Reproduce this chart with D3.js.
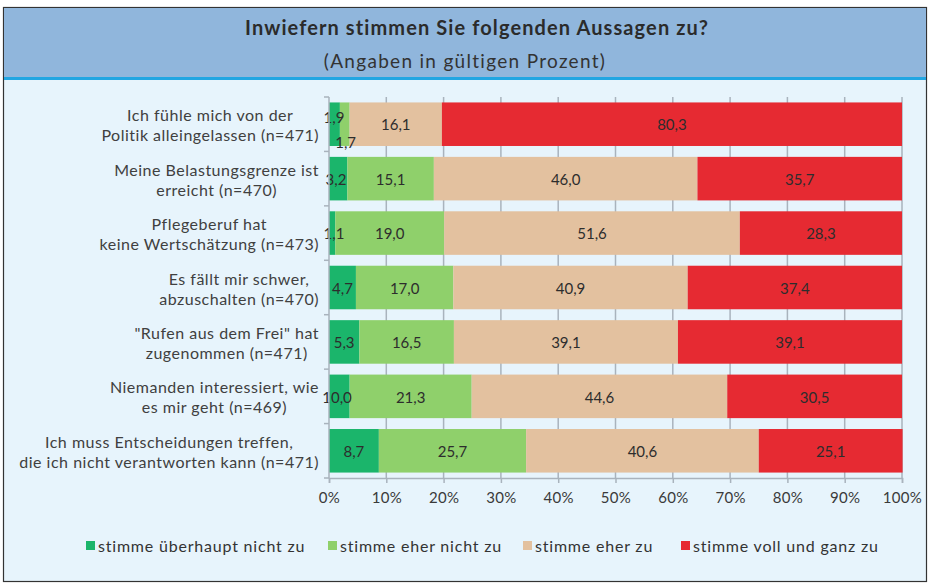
<!DOCTYPE html>
<html>
<head>
<meta charset="utf-8">
<script src="https://cdn.jsdelivr.net/npm/d3@7"></script>
<style>
  body { margin: 0; background: #fff; }
  svg { display: block; font-family: Lato, "Open Sans", sans-serif; }
</style>
</head>
<body>
<div id="chart"></div>
<script>
// Survey answers, stacked to 100%
const categories = [
    ["Ich fühle mich von der", "Politik alleingelassen (n=471)"],
    ["Meine Belastungsgrenze ist", "erreicht (n=470)"],
    ["Pflegeberuf hat", "keine Wertschätzung (n=473)"],
    ["Es fällt mir schwer,", "abzuschalten (n=470)"],
    ["\"Rufen aus dem Frei\" hat", "zugenommen (n=471)"],
    ["Niemanden interessiert, wie", "es mir geht (n=469)"],
    ["Ich muss Entscheidungen treffen,", "die ich nicht verantworten kann (n=471)"]
];
const seriesNames = ["stimme überhaupt nicht zu", "stimme eher nicht zu", "stimme eher zu", "stimme voll und ganz zu"];
const ueberhauptNicht = [1.9, 3.2, 1.1, 4.7, 5.3, 3.6, 8.7];
const eherNicht = [1.7, 15.1, 19.0, 17.0, 16.5, 21.3, 25.7];
const eherZu = [16.1, 46.0, 51.6, 40.9, 39.1, 44.6, 40.6];
const vollUndGanz = [80.3, 35.7, 28.3, 37.4, 39.1, 30.5, 25.1];
// the original chart prints "10,0" on a bar that is only ~3.6 wide
const labelOverride = {"5-0": "10,0"};
const xTicks = [0, 10, 20, 30, 40, 50, 60, 70, 80, 90, 100];
const colors = ["#1bb56b", "#8fd06b", "#e3c19f", "#e62a32"];

const W = 930, H = 585;
const svg = d3.select("#chart").append("svg").attr("width", W).attr("height", H);

// frame + header
svg.append("rect").attr("x", 3.5).attr("y", 7.5).attr("width", 923).attr("height", 574)
    .attr("fill", "#e7f4fc").attr("stroke", "#333").attr("stroke-width", 1.2);
svg.append("rect").attr("x", 4).attr("y", 8).attr("width", 922).attr("height", 70).attr("fill", "#90b6dc");
svg.append("rect").attr("x", 4).attr("y", 77).attr("width", 922).attr("height", 3).attr("fill", "#21a6e2");
svg.append("text").attr("x", 477).attr("y", 35).attr("text-anchor", "middle")
    .attr("font-size", 20).attr("font-weight", "bold").attr("fill", "#2b2b2b")
    .attr("letter-spacing", 1.1)
    .text("Inwiefern stimmen Sie folgenden Aussagen zu?");
svg.append("text").attr("x", 465).attr("y", 68).attr("text-anchor", "middle")
    .attr("font-size", 19).attr("fill", "#333").attr("letter-spacing", 1.3)
    .text("(Angaben in gültigen Prozent)");

const margin = {left: 329, right: 28, top: 97, bottom: 107};
const x = d3.scaleLinear().domain([0, 100]).range([margin.left, W - margin.right]);
const y = d3.scaleBand().domain(d3.range(categories.length))
    .range([margin.top, H - margin.bottom]).paddingInner(0.2).paddingOuter(0.1);

// grid
svg.append("g").selectAll("line").data(xTicks.slice(1)).join("line")
    .attr("x1", d => x(d)).attr("x2", d => x(d))
    .attr("y1", margin.top).attr("y2", H - margin.bottom)
    .attr("stroke", "#a9b3bd").attr("stroke-width", 1.5);

// stacked data
const table = categories.map((c, i) => ({
    i: i,
    s0: ueberhauptNicht[i], s1: eherNicht[i], s2: eherZu[i], s3: vollUndGanz[i]
}));
const stack = d3.stack().keys(["s0", "s1", "s2", "s3"])(table);

const fmt = v => d3.format(".1f")(v).replace(".", ",");

const barG = svg.append("g");
const labelG = svg.append("g");
stack.forEach((layer, k) => {
    barG.append("g").selectAll("rect").data(layer).join("rect")
        .attr("x", d => x(d[0]))
        .attr("y", d => y(d.data.i))
        .attr("width", d => x(d[1]) - x(d[0]))
        .attr("height", y.bandwidth())
        .attr("fill", colors[k]);
    labelG.append("g").selectAll("text").data(layer).join("text")
        .attr("x", d => {
            const cx = (x(d[0]) + x(d[1])) / 2;
            // narrow segments: label pushed to the right like in the original
            if (d.data.i === 0 && k === 0) return x(0) + 5;
            if (d.data.i === 0 && k === 1) return x(d[1]) - 4;
            if (k === 0 && d.data.i === 5) return x(0) + 8;
            if (k === 0 && d.data.i === 1) return x(0) + 7;
            if (k === 0 && d.data.i === 2) return x(0) + 5;
            return cx;
        })
        .attr("y", d => {
            const cy = y(d.data.i) + y.bandwidth() / 2 + 1;
            if (d.data.i === 0 && k === 0) return cy - 7;
            if (d.data.i === 0 && k === 1) return cy + 18;
            return cy;
        })
        .attr("dy", "0.35em").attr("text-anchor", "middle")
        .attr("font-size", 15).attr("fill", "#2d2d2d")
        .text(d => labelOverride[d.data.i + "-" + k] || fmt(d.data["s" + k]));
});

// left axis line + tick marks
svg.append("line").attr("x1", x(0)).attr("x2", x(0))
    .attr("y1", margin.top).attr("y2", H - margin.bottom)
    .attr("stroke", "#a9b3bd").attr("stroke-width", 1.5);
const bounds = d3.range(categories.length + 1).map(i => margin.top + i * (H - margin.bottom - margin.top) / categories.length);
svg.append("g").selectAll("line").data(bounds).join("line")
    .attr("x1", x(0) - 5).attr("x2", x(0))
    .attr("y1", d => d).attr("y2", d => d)
    .attr("stroke", "#a9b3bd").attr("stroke-width", 1.5);

// bottom axis
const xAxis = d3.axisBottom(x).tickValues(xTicks).tickFormat(d => d + "%").tickSize(5).tickPadding(9);
const ga = svg.append("g").attr("transform", `translate(0,${H - margin.bottom})`).call(xAxis);
ga.select(".domain").attr("stroke", "#a9b3bd").attr("stroke-width", 1.5);
ga.selectAll(".tick line").attr("stroke", "#a9b3bd").attr("stroke-width", 1.5);
ga.selectAll(".tick text").attr("font-size", 15).attr("fill", "#3a3a3a")
    .attr("font-family", "Lato, sans-serif").attr("letter-spacing", 0.3);

// category labels: centered blocks, right-aligned to the axis
categories.forEach((lines, i) => {
    const cy = y(i) + y.bandwidth() / 2;
    const t = svg.append("text").attr("font-size", 16).attr("fill", "#404040")
        .attr("text-anchor", "middle").attr("letter-spacing", 0.5);
    const spans = lines.map((l, j) => t.append("tspan").attr("y", cy + (j === 0 ? -3 : 17)).text(l));
    const wmax = d3.max(spans, s => s.node().getComputedTextLength());
    spans.forEach(s => s.attr("x", 319 - wmax / 2));
});

// legend
const legendX = [86, 328, 523, 681];
const lg = svg.append("g").attr("transform", "translate(0,546)");
seriesNames.forEach((n, k) => {
    lg.append("rect").attr("x", legendX[k]).attr("y", -5).attr("width", 9).attr("height", 9).attr("fill", colors[k]);
    lg.append("text").attr("x", legendX[k] + 12).attr("y", 0).attr("dy", "0.35em")
        .attr("font-size", 16).attr("letter-spacing", 0.8).attr("fill", "#333").text(n);
});
</script>
</body>
</html>
